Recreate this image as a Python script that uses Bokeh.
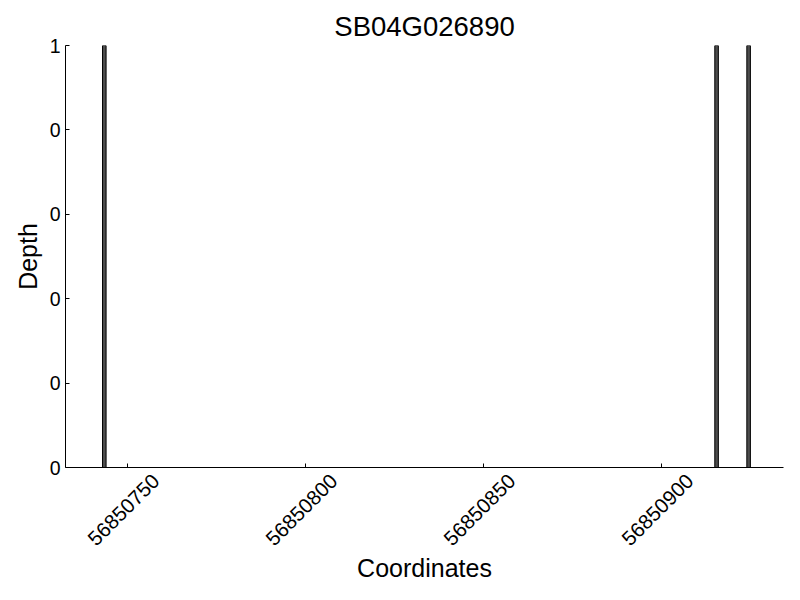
import math
from bokeh.plotting import figure
from bokeh.embed import file_html
from bokeh.resources import INLINE
from bokeh.models import FixedTicker, BasicTickFormatter, Range1d, LinearAxis

# Data
positions = [56850743, 56850915, 56850924]
depths = [1, 1, 1]
x_ticks = [56850750, 56850800, 56850850, 56850900]
x_tick_labels = ["56850750", "56850800", "56850850", "56850900"]
y_ticks = [0, 0.2, 0.4, 0.6, 0.8, 1.0]
y_tick_labels = ["0", "0", "0", "0", "0", "1"]

FONT = "Liberation Sans"
LABEL_SHIFT = 8  # data units: re-centres Bokeh's right-anchored rotated labels on the ticks

p = figure(width=784, height=584, output_backend="svg", toolbar_location=None,
           x_range=Range1d(56850732.6, 56850934.3), y_range=Range1d(0, 1),
           x_axis_type=None,
           min_border_left=65, min_border_right=1, min_border_top=45, min_border_bottom=117)

p.quad(left=[x for x in positions], right=[x + 1 for x in positions],
       bottom=0, top=depths, fill_color="#4d4d4d", line_color="black", line_width=1)

p.title.text = "SB04G026890"
p.title.align = "center"
p.title.text_font = FONT
p.title.text_font_size = "27.5px"
p.title.text_font_style = "normal"
p.title.text_color = "black"
p.title.standoff = 8

p.xgrid.visible = False
p.ygrid.visible = False
p.outline_line_color = None

# x axis 1: line + inward ticks only
xa = LinearAxis(ticker=FixedTicker(ticks=x_ticks),
                major_label_overrides={t: "" for t in x_ticks},
                major_label_standoff=0,
                major_tick_in=4, major_tick_out=0, minor_tick_in=0, minor_tick_out=0,
                axis_line_color="black", major_tick_line_color="black",
                major_label_text_font_size="1px")
# x axis 2: rotated tick labels (centred on ticks like the reference) + axis title
lab_ticks = [t + LABEL_SHIFT for t in x_ticks]
xb = LinearAxis(ticker=FixedTicker(ticks=lab_ticks),
                formatter=BasicTickFormatter(use_scientific=False),
                major_label_overrides={lt: l for lt, l in zip(lab_ticks, x_tick_labels)},
                major_label_orientation=math.pi / 4,
                major_label_standoff=10,
                major_tick_in=0, major_tick_out=0, minor_tick_in=0, minor_tick_out=0,
                axis_line_color=None, major_tick_line_color=None,
                major_label_text_font=FONT, major_label_text_font_size="20.5px",
                major_label_text_color="black",
                axis_label="Coordinates", axis_label_text_font=FONT,
                axis_label_text_font_size="25px", axis_label_text_font_style="normal",
                axis_label_text_color="black", axis_label_standoff=-1)
p.add_layout(xa, "below")
p.add_layout(xb, "below")

ya = p.yaxis[0]
ya.major_tick_in = 4
ya.major_tick_out = 0
ya.minor_tick_in = 0
ya.minor_tick_out = 0
ya.axis_line_color = "black"
ya.major_tick_line_color = "black"
ya.major_label_text_font = FONT
ya.major_label_text_font_size = "19.5px"
ya.major_label_text_color = "black"
ya.axis_label_text_font = FONT
ya.axis_label_text_font_size = "25px"
ya.axis_label_text_font_style = "normal"
ya.axis_label_text_color = "black"
ya.ticker = FixedTicker(ticks=y_ticks)
ya.major_label_overrides = {t: l for t, l in zip(y_ticks, y_tick_labels)}
ya.axis_label = "Depth"

open("out.html", "w").write(file_html(p, INLINE))
